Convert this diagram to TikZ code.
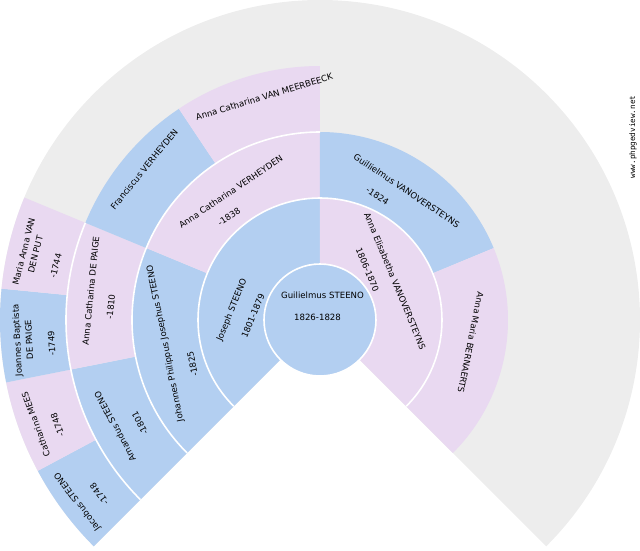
\documentclass[tikz,border=0pt]{standalone}
\usepackage{fontspec}
\usepackage{tikz}
\newfontfamily\fanfont{DejaVu Sans}
\newfontfamily\markfont{DejaVu Sans Mono}
\definecolor{fanblue}{HTML}{B3CFF1}
\definecolor{fanpink}{HTML}{E9D9F1}
\definecolor{fangray}{HTML}{EDEDED}
\tikzset{
  male/.style={fill=fanblue},
  female/.style={fill=fanpink},
  sep/.style={draw=white,line width=1.6pt},
  lbl/.style={font=\fanfont\fontsize{8.6}{12}\selectfont,inner sep=0pt,align=center}
}

\begin{document}
\begin{tikzpicture}[x=1pt,y=1pt]
\useasboundingbox (-320,-230) rectangle (320,320);
% Background fan
\fill[fangray] (0,0) -- (225:320) arc[start angle=225,end angle=-45,radius=320pt] -- cycle;

% Generation 1
\fill[male] (225:56) -- (225:122) arc[start angle=225,end angle=90,radius=122pt] -- (90:56) arc[start angle=90,end angle=225,radius=56pt] -- cycle;
\fill[female] (90:56) -- (90:122) arc[start angle=90,end angle=-45,radius=122pt] -- (-45:56) arc[start angle=-45,end angle=90,radius=56pt] -- cycle;

% Generation 2
\fill[male] (225:122) -- (225:188) arc[start angle=225,end angle=157.5,radius=188pt] -- (157.5:122) arc[start angle=157.5,end angle=225,radius=122pt] -- cycle;
\fill[female] (157.5:122) -- (157.5:188) arc[start angle=157.5,end angle=90,radius=188pt] -- (90:122) arc[start angle=90,end angle=157.5,radius=122pt] -- cycle;
\fill[male] (90:122) -- (90:188) arc[start angle=90,end angle=22.5,radius=188pt] -- (22.5:122) arc[start angle=22.5,end angle=90,radius=122pt] -- cycle;
\fill[female] (22.5:122) -- (22.5:188) arc[start angle=22.5,end angle=-45,radius=188pt] -- (-45:122) arc[start angle=-45,end angle=22.5,radius=122pt] -- cycle;

% Generation 3
\fill[male] (225:188) -- (225:254) arc[start angle=225,end angle=191.25,radius=254pt] -- (191.25:188) arc[start angle=191.25,end angle=225,radius=188pt] -- cycle;
\fill[female] (191.25:188) -- (191.25:254) arc[start angle=191.25,end angle=157.5,radius=254pt] -- (157.5:188) arc[start angle=157.5,end angle=191.25,radius=188pt] -- cycle;
\fill[male] (157.5:188) -- (157.5:254) arc[start angle=157.5,end angle=123.75,radius=254pt] -- (123.75:188) arc[start angle=123.75,end angle=157.5,radius=188pt] -- cycle;
\fill[female] (123.75:188) -- (123.75:254) arc[start angle=123.75,end angle=90,radius=254pt] -- (90:188) arc[start angle=90,end angle=123.75,radius=188pt] -- cycle;

% Generation 4
\fill[male] (225:254) -- (225:320) arc[start angle=225,end angle=208.125,radius=320pt] -- (208.125:254) arc[start angle=208.125,end angle=225,radius=254pt] -- cycle;
\fill[female] (208.125:254) -- (208.125:320) arc[start angle=208.125,end angle=191.25,radius=320pt] -- (191.25:254) arc[start angle=191.25,end angle=208.125,radius=254pt] -- cycle;
\fill[male] (191.25:254) -- (191.25:320) arc[start angle=191.25,end angle=174.375,radius=320pt] -- (174.375:254) arc[start angle=174.375,end angle=191.25,radius=254pt] -- cycle;
\fill[female] (174.375:254) -- (174.375:320) arc[start angle=174.375,end angle=157.5,radius=320pt] -- (157.5:254) arc[start angle=157.5,end angle=174.375,radius=254pt] -- cycle;

% Ring separators
\draw[sep] (225:122) arc[start angle=225,end angle=-45,radius=122pt];
\draw[sep] (225:188) arc[start angle=225,end angle=90,radius=188pt];
\draw[sep] (225:254) arc[start angle=225,end angle=157.5,radius=254pt];
\draw[sep,male] (0,0) circle[radius=56pt];

% Root
\node[lbl] (guilielmus) at (2.5,25) {Guilielmus STEENO};
\node[lbl] (guilielmusdate) at (-2.5,3) {1826-1828};

% Parents
\node[lbl,rotate=67.5] (joseph) at (-88,10) {Joseph STEENO};
\node[lbl,rotate=67.5] (josephdate) at (-67,4) {1801-1879};
\node[lbl,rotate=-67.5] (elisabetha) at (75,39) {Anna Elisabetha VANOVERSTEYNS};
\node[lbl,rotate=-67.5] (elisabethadate) at (47.5,50) {1806-1870};

% Grandparents
\node[lbl,rotate=101.25] (johannes) at (-154.5,-23.5) {Johannes Philippus Josephus STEENO};
\node[lbl,rotate=101.25] (johannesdate) at (-127.5,-44) {-1825};
\node[lbl,rotate=33.75] (verheyden) at (-89.3,128.3) {Anna Catharina VERHEYDEN};
\node[lbl,rotate=33.75] (verheydendate) at (-91,103.3) {-1838};
\node[lbl,rotate=-33.75] (guillielmus) at (86.7,129.2) {Guillielmus VANOVERSTEYNS};
\node[lbl,rotate=-33.75] (guillielmusdate) at (57.5,124.2) {-1824};
\node[lbl,rotate=-101.25] (bernaerts) at (150.8,-22.5) {Anna Maria BERNAERTS};

% Great-grandparents
\node[lbl,rotate=118.125] (amandus) at (-205,-106.7) {Amandus STEENO};
\node[lbl,rotate=118.125] (amandusdate) at (-180,-103.3) {-1801};
\node[lbl,rotate=84.375] (depaige) at (-229.2,29.2) {Anna Catharina DE PAIGE};
\node[lbl,rotate=84.375] (depaigedate) at (-209.2,13.3) {-1810};
\node[lbl,rotate=50.625] (franciscus) at (-175.8,150.8) {Franciscus VERHEYDEN};
\node[lbl,rotate=16.875] (meerbeeck) at (-55.8,223.3) {Anna Catharina VAN MEERBEECK};

% Generation 4 labels
\node[lbl,rotate=126.5625] (jacobus) at (-242.5,-181.7) {Jacobus STEENO};
\node[lbl,rotate=126.5625] (jacobusdate) at (-220.8,-174.2) {-1748};
\node[lbl,rotate=109.6875] (mees) at (-284.2,-104.2) {Catharina MEES};
\node[lbl,rotate=109.6875] (meesdate) at (-262.5,-105) {-1748};
\node[lbl,rotate=92.8125] (joannes) at (-297,-20) {Joannes Baptista\\DE PAIGE};
\node[lbl,rotate=92.8125] (joannesdate) at (-268.3,-23.3) {-1749};
\node[lbl,rotate=75.9375] (mariaanna) at (-290.5,67) {Maria Anna VAN\\DEN PUT};
\node[lbl,rotate=75.9375] (mariaannadate) at (-264.2,54.2) {-1744};

% Watermark
\node[inner sep=0pt,font=\markfont\fontsize{7.6}{9}\selectfont,rotate=90] (site) at (313,183) {www.phpgedview.net};
\end{tikzpicture}
\end{document}
